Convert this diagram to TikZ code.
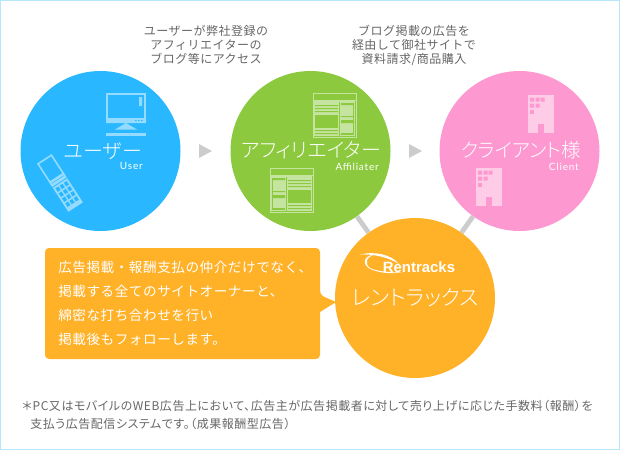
\documentclass[tikz,border=0pt]{standalone}
\usepackage{fontspec}
\usetikzlibrary{backgrounds}
\setmainfont[LetterSpace=8]{Lato}
\newfontfamily\jpfont[LetterSpace=4]{Noto Sans CJK JP}
\newfontfamily\jpnote[LetterSpace=4.5,RawFeature=+palt]{Noto Sans CJK JP}
\newfontfamily\jplight[RawFeature=+palt]{Noto Sans CJK JP Light}
\newfontfamily\logofont{Liberation Sans}
\definecolor{userblue}{HTML}{29B8FF}
\definecolor{userpale}{HTML}{94DBFF}
\definecolor{affgreen}{HTML}{8CC93F}
\definecolor{affpale}{HTML}{C5E49F}
\definecolor{clientpink}{HTML}{FD99D0}
\definecolor{clientpale}{HTML}{FECCE7}
\definecolor{rentorange}{HTML}{FFB128}
\definecolor{linkgray}{HTML}{CCCCCC}
\definecolor{textgray}{HTML}{666666}
\definecolor{frameblue}{HTML}{B5E6FA}
\tikzset{
  stagecircle/.style={circle,minimum size=120pt,inner sep=0pt},
  stagename/.style={text=white,inner sep=0pt,font=\jplight\fontsize{15}{15}\selectfont},
  stagesub/.style={text=white,inner sep=0pt,anchor=east,font=\fontsize{7.5}{8}\selectfont},
  caption/.style={text=textgray,inner sep=0pt,align=center,font=\jpfont\fontsize{9}{10.5}\selectfont},
  linkline/.style={draw=linkgray,line width=3.6pt},
  stagearrow/.style={fill=linkgray}
}
% one web page, header on top, wide column first
\newcommand{\pageicon}[1]{%
  \begin{scope}[#1]
    \draw[affpale,line width=.6pt] (0,0) rectangle (43,44);
    \draw[affpale,line width=.6pt] (0,7) -- (43,7);
    \fill[affpale] (1,8) rectangle (42,43);
    \fill[affgreen] (26,9) rectangle (27,43);
    \fill[affgreen] (2,12) rectangle (25,13) (2,15) rectangle (25,16) (2,18) rectangle (25,19);
    \fill[affgreen] (2,22) rectangle (25,35);
    \fill[affgreen] (2,37) rectangle (25,38) (2,40) rectangle (25,41);
    \fill[affgreen] (28,10) rectangle (41,12) (28,23) rectangle (41,24) (28,27) rectangle (41,30);
    \fill[affgreen] (40,11) rectangle (41,42);
    \fill[affgreen] (28,40) rectangle (41,42);
  \end{scope}}
% office block with windows and a door
\newcommand{\blockicon}[1]{%
  \begin{scope}[#1]
    \fill[clientpale] (0,0) rectangle (26.5,38);
    \fill[clientpink] (2.5,2.5) rectangle (6.5,6.5) (8,2.5) rectangle (12,6.5) (13,2.5) rectangle (17,6.5);
    \fill[clientpink] (2.5,8.5) rectangle (6.5,12.5) (8,8.5) rectangle (12,12.5);
    \fill[clientpink] (2.5,14.5) rectangle (6.5,18.5);
    \fill[clientpink] (10,29) rectangle (16,38);
  \end{scope}}
\begin{document}
\begin{tikzpicture}[x=0.75pt,y=-0.75pt]
  \useasboundingbox (0,0) rectangle (620,450);
  \draw[frameblue,line width=.75pt] (.5,.5) rectangle (619.5,449.5);
  \node[stagecircle,fill=userblue] (user) at (100.5,151) {};
  \node[stagecircle,fill=affgreen] (aff) at (310.5,151) {};
  \node[stagecircle,fill=clientpink] (client) at (519.5,151) {};
  \node[stagecircle,fill=rentorange] (rent) at (415,298) {};
  % links go under the circles
  \begin{scope}[on background layer]
    \path[linkline] (aff) -- (rent);
    \path[linkline] (client) -- (rent);
  \end{scope}
  \fill[stagearrow] (199,144) -- (212,151) -- (199,158) -- cycle;
  \fill[stagearrow] (409,144) -- (422,151) -- (409,158) -- cycle;
  % monitor
  \draw[userpale,line width=1.5pt] (107,94) rectangle (145,122);
  \fill[userpale] (106,118) rectangle (146,123) (139,97) rectangle (142,106);
  \fill[userblue] (135,120) rectangle (136.5,121) (138,120) rectangle (139.5,121) (141,120) rectangle (142.5,121);
  \fill[userpale] (115,129.5) -- (126,123) -- (137,129.5) -- cycle;
  \fill[userpale] (106,132.5) rectangle (146,136);
  % phone
  \begin{scope}[shift={(60,183)},rotate=33]
    \draw[userpale,line width=1.2pt] (-8,-28) rectangle (8,-3);
    \fill[userpale] (-8.7,-7) rectangle (8.7,-4.5) (-8.7,-3) rectangle (8.7,-1);
    \fill[userpale] (-8.7,0) rectangle (8.7,28.7);
    \foreach \cellx in {-6.7,-1.7,3.3}{
      \foreach \celly in {2,8,14,20}{
        \fill[userblue] (\cellx,\celly) rectangle ++(3.4,4.2);
      }
    }
  \end{scope}
  \pageicon{shift={(313,93)}}
  \pageicon{shift={(313,168)},xscale=-1}
  \blockicon{shift={(527.7,95)}}
  \blockicon{shift={(475.7,168)}}
  \node[stagename] (usertext) at (103,151) {ユーザー};
  \node[stagesub] (usersub) at (143,166) {User};
  \node[stagename] (afftext) at (311,150) {アフィリエイター};
  \node[stagesub] (affsub) at (379,167) {Affiliater};
  \node[stagename,font=\jplight\fontsize{14.6}{15}\selectfont] (clienttext) at (521,150) {クライアント様};
  \node[stagesub] (clientsub) at (579,167) {Client};
  \node[stagename,font=\jplight\fontsize{16}{16}\selectfont] (renttext) at (415.5,298) {レントラックス};
  % logo
  \fill[white] (360,254.5) .. controls (372,251.5) and (390,253) .. (399,264) .. controls (388,257) and (374,254) .. (360,254.5);
  \fill[white] (376,254) .. controls (360,256) and (362,268) .. (376,271) .. controls (384,273.5) and (394,273.5) .. (402,272.5) .. controls (388,272.5) and (376,271) .. (370,268) .. controls (364,263.5) and (366,256.5) .. (376,254);
  \node[text=white,inner sep=0pt,font=\logofont\bfseries\fontsize{11.2}{12}\selectfont] (logo) at (419,267) {Rentracks};
  \node[caption] (capa) at (206,45) {ユーザーが弊社登録の\\アフィリエイターの\\ブログ等にアクセス};
  \node[caption] (capb) at (414,45) {ブログ掲載の広告を\\経由して御社サイトで\\資料請求/商品購入};
  \fill[rentorange,rounded corners=3pt] (45,248) -- (320,248) -- (320,295) [sharp corners] -- (336,302) -- (320,312) [rounded corners=3pt] -- (320,359) -- (45,359) -- cycle;
  \node[inner sep=0pt,anchor=west,text=white,align=left,font=\jpfont\fontsize{10.2}{18}\selectfont] (note) at (58,303) {広告掲載・報酬支払の仲介だけでなく、\\掲載する全てのサイトオーナーと、\\綿密な打ち合わせを行い\\掲載後もフォローします。};
  \node[inner sep=0pt,anchor=north west,text=textgray,align=left,font=\jpnote\fontsize{9}{13.5}\selectfont] (foot) at (22,400) {＊PC又はモバイルのWEB広告上において、広告主が広告掲載者に対して売り上げに応じた手数料（報酬）を\\\hspace*{6pt}支払う広告配信システムです。（成果報酬型広告）};
\end{tikzpicture}
\end{document}
